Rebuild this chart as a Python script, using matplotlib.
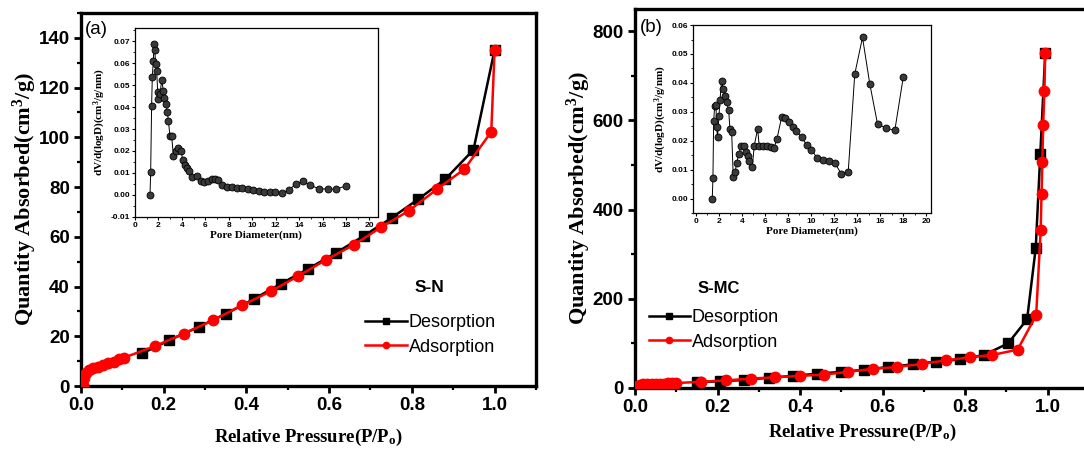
import matplotlib
matplotlib.use('Agg')
import matplotlib.pyplot as plt
from matplotlib.ticker import MultipleLocator

plt.rcParams['mathtext.fontset'] = 'custom'
plt.rcParams['mathtext.rm'] = 'Liberation Serif:bold'
plt.rcParams['mathtext.it'] = 'Liberation Serif:bold'
plt.rcParams['mathtext.bf'] = 'Liberation Serif:bold'

# S-N isotherm
sn_des_p = [1.0, 0.949, 0.881, 0.816, 0.751, 0.685, 0.617, 0.550, 0.483,
            0.419, 0.351, 0.285, 0.213, 0.148]
sn_des_q = [135.1, 95.0, 83.2, 75.2, 67.6, 60.5, 53.6, 47.2, 41.1,
            35.1, 29.1, 23.8, 18.4, 13.1]
sn_ads_p = [0.004, 0.008, 0.012, 0.019, 0.029, 0.041, 0.054, 0.066, 0.079,
            0.091, 0.104, 0.178, 0.249, 0.320, 0.390, 0.459, 0.525, 0.593,
            0.660, 0.726, 0.793, 0.861, 0.927, 0.992, 1.0]
sn_ads_q = [0.4, 3.1, 5.1, 6.4, 7.1, 7.7, 8.4, 9.1, 9.8,
            10.7, 11.4, 16.0, 21.1, 26.5, 32.5, 38.1, 44.2, 50.8,
            56.8, 63.9, 70.5, 79.2, 87.2, 102.2, 135.1]

# S-MC isotherm
smc_des_p = [0.994, 0.982, 0.971, 0.950, 0.904, 0.846, 0.787, 0.729, 0.673,
             0.614, 0.556, 0.499, 0.441, 0.382, 0.324, 0.265, 0.207, 0.149]
smc_des_q = [751, 524, 314, 154, 100, 74, 64, 59, 53,
             47, 41, 36, 32, 27, 23, 18, 15, 13]
smc_ads_p = [0.006, 0.012, 0.02, 0.03, 0.04, 0.05, 0.06, 0.07, 0.08, 0.09,
             0.10, 0.161, 0.220, 0.280, 0.339, 0.399, 0.457, 0.516, 0.576,
             0.635, 0.695, 0.754, 0.812, 0.866, 0.927, 0.972, 0.983, 0.985,
             0.987, 0.989, 0.992, 0.994]
smc_ads_q = [4, 7, 8, 8.5, 9, 9.5, 10, 10, 10.5, 11,
             11, 14, 17, 21, 24, 27, 30, 36, 43,
             47, 54, 62, 69, 74, 86, 163, 355, 436,
             507, 590, 667, 751]

# pore size distributions
sn_d = [1.28, 1.34, 1.42, 1.48, 1.57, 1.62, 1.68, 1.77, 1.85, 1.94, 1.99,
        2.14, 2.28, 2.42, 2.51, 2.65, 2.76, 2.85, 2.99, 3.13, 3.28, 3.50,
        3.70, 3.93, 4.07, 4.27, 4.47, 4.64, 4.84, 5.27, 5.61, 5.90, 6.27,
        6.55, 6.84, 7.12, 7.41, 7.83, 8.26, 8.69, 9.17, 9.60, 10.03, 10.54,
        11.03, 11.48, 11.97, 12.54, 13.11, 13.70, 14.33, 14.96, 15.70,
        16.44, 17.18, 18.0]
sn_dv = [-0.0003, 0.0103, 0.0406, 0.0539, 0.0613, 0.0689, 0.0662, 0.0597,
         0.0567, 0.0467, 0.0436, 0.0459, 0.0525, 0.0475, 0.0441, 0.0413,
         0.0380, 0.0337, 0.0268, 0.0268, 0.0176, 0.0199, 0.0214, 0.0202,
         0.0161, 0.0138, 0.0123, 0.0107, 0.0081, 0.0087, 0.0061, 0.0058,
         0.0061, 0.0072, 0.0072, 0.0069, 0.0046, 0.0035, 0.0034, 0.0031,
         0.0031, 0.0028, 0.0023, 0.0018, 0.0015, 0.0015, 0.0015, 0.0008,
         0.0020, 0.0049, 0.0061, 0.0043, 0.0028, 0.0026, 0.0026, 0.0041]

smc_d = [1.44, 1.50, 1.56, 1.65, 1.76, 1.82, 1.90, 2.02, 2.11, 2.25, 2.40,
         2.54, 2.68, 2.86, 2.97, 3.12, 3.26, 3.43, 3.55, 3.75, 3.95, 4.18,
         4.36, 4.50, 4.65, 4.91, 5.08, 5.37, 5.51, 5.86, 6.20, 6.49, 6.78,
         7.04, 7.45, 7.73, 8.08, 8.43, 8.74, 9.18, 9.61, 10.04, 10.53, 11.00,
         11.54, 12.06, 12.64, 13.22, 13.79, 14.46, 15.09, 15.76, 16.48,
         17.26, 18.0]
smc_dv = [0.0, 0.0071, 0.0267, 0.0320, 0.0324, 0.0247, 0.0213, 0.0285,
          0.0341, 0.0408, 0.0379, 0.0356, 0.0333, 0.0308, 0.0241, 0.0232,
          0.0075, 0.0092, 0.0124, 0.0155, 0.0184, 0.0184, 0.0163, 0.0147,
          0.0130, 0.0109, 0.0184, 0.0241, 0.0184, 0.0184, 0.0182, 0.0179,
          0.0175, 0.0205, 0.0282, 0.0278, 0.0264, 0.0249, 0.0233, 0.0213,
          0.0187, 0.0170, 0.0140, 0.0133, 0.0129, 0.0123, 0.0086, 0.0092,
          0.0431, 0.0557, 0.0397, 0.0259, 0.0244, 0.0236, 0.0422]

RED = '#ff0000'
label_font = dict(family='Liberation Serif', weight='bold')


def style_main(ax, ymajor, yminor, xpad, ypad):
  for s in ax.spines.values():
    s.set_linewidth(2.4)
  ax.xaxis.set_major_locator(MultipleLocator(0.2))
  ax.xaxis.set_minor_locator(MultipleLocator(0.1))
  ax.yaxis.set_major_locator(MultipleLocator(ymajor))
  ax.yaxis.set_minor_locator(MultipleLocator(yminor))
  ax.tick_params(which='major', direction='out', length=5, width=2,
                 top=False, right=False, pad=3, labelsize=13.5)
  ax.tick_params(which='minor', direction='out', length=3, width=1.6,
                 top=False, right=False)
  for lab in ax.get_xticklabels() + ax.get_yticklabels():
    lab.set_fontfamily('Liberation Sans')
    lab.set_fontweight('bold')
  ax.set_xlabel('Relative Pressure(P/P$_\\mathregular{o}$)', labelpad=xpad,
                fontsize=13.5, **label_font)
  ax.set_ylabel('Quantity Absorbed(cm$^\\mathregular{3}$/g)', labelpad=ypad,
                fontsize=16, **label_font)


def style_inset(ax):
  for s in ax.spines.values():
    s.set_linewidth(0.9)
  ax.xaxis.set_major_locator(MultipleLocator(2))
  ax.xaxis.set_minor_locator(MultipleLocator(1))
  ax.yaxis.set_major_locator(MultipleLocator(0.01))
  ax.yaxis.set_minor_locator(MultipleLocator(0.005))
  ax.tick_params(which='major', direction='out', length=2, width=0.8,
                 labelsize=6, pad=1.5)
  ax.tick_params(which='minor', direction='out', length=1.2, width=0.6)
  for lab in ax.get_xticklabels() + ax.get_yticklabels():
    lab.set_fontfamily('Liberation Sans')
    lab.set_fontweight('bold')
  ax.yaxis.set_major_formatter(lambda v, pos: f'{v:.2f}')
  ax.set_xlabel('Pore Diameter(nm)', fontsize=8, labelpad=1, **label_font)
  ax.set_ylabel('dV/d(logD)(cm$^\\mathregular{3}$/g/nm)', fontsize=8,
                labelpad=2, **label_font)


def plot_iso(ax, dp, dq, ap, aq):
  ax.plot(dp, dq, color='black', lw=1.8, marker='s', ms=6.5,
          label='Desorption', zorder=3)
  ax.plot(ap, aq, color=RED, lw=1.8, marker='o', ms=7.5,
          label='Adsorption', zorder=4)


def plot_psd(ax, d, dv):
  ax.plot(d, dv, color='black', lw=0.7, marker='o', ms=5,
          mfc='#3a3a3a', mec='black', mew=0.6)


fig = plt.figure(figsize=(10.84, 4.55), dpi=100)

# panel (a): S-N
ax1 = fig.add_axes([0.0747, 0.1516, 0.4197, 0.8198])
plot_iso(ax1, sn_des_p, sn_des_q, sn_ads_p, sn_ads_q)
ax1.set_xlim(0, 1.1)
ax1.set_ylim(0, 150)
style_main(ax1, 20, 10, xpad=9, ypad=0)
ax1.text(0.033, 0.957, '(a)', transform=ax1.transAxes, ha='center',
         va='center', family='Liberation Sans', fontsize=13.5)
ax1.text(0.766, 0.265, 'S-N', transform=ax1.transAxes, ha='center',
         va='center', family='Liberation Sans', weight='bold', fontsize=12.5)
ax1.legend(loc='center left', bbox_to_anchor=(0.625, 0.137), frameon=False,
           prop=dict(family='Liberation Sans', size=13), handlelength=2.3,
           handletextpad=0.1, labelspacing=0.4, markerscale=0.6,
           borderpad=0, borderaxespad=0)

ins1 = fig.add_axes([0.1245, 0.5237, 0.2239, 0.4141])
plot_psd(ins1, sn_d, sn_dv)
ins1.set_xlim(0, 20.7)
ins1.set_ylim(-0.01, 0.076)
style_inset(ins1)

# panel (b): S-MC
ax2 = fig.add_axes([0.5858, 0.1473, 0.4188, 0.833])
plot_iso(ax2, smc_des_p, smc_des_q, smc_ads_p, smc_ads_q)
ax2.set_xlim(0, 1.1)
ax2.set_ylim(0, 850)
style_main(ax2, 200, 100, xpad=4, ypad=0)
ax2.text(0.035, 0.95, '(b)', transform=ax2.transAxes, ha='center',
         va='center', family='Liberation Sans', fontsize=13.5)
ax2.text(0.184, 0.263, 'S-MC', transform=ax2.transAxes, ha='center',
         va='center', family='Liberation Sans', weight='bold', fontsize=12)
ax2.legend(loc='center left', bbox_to_anchor=(0.03, 0.153), frameon=False,
           prop=dict(family='Liberation Sans', size=13), handlelength=2.3,
           handletextpad=0.1, labelspacing=0.4, markerscale=0.6,
           borderpad=0, borderaxespad=0)

ins2 = fig.add_axes([0.6396, 0.5312, 0.2193, 0.4138])
plot_psd(ins2, smc_d, smc_dv)
ins2.set_xlim(-0.2, 20.4)
ins2.set_ylim(-0.005, 0.06)
style_inset(ins2)

fig.savefig('out.png', dpi=100)
